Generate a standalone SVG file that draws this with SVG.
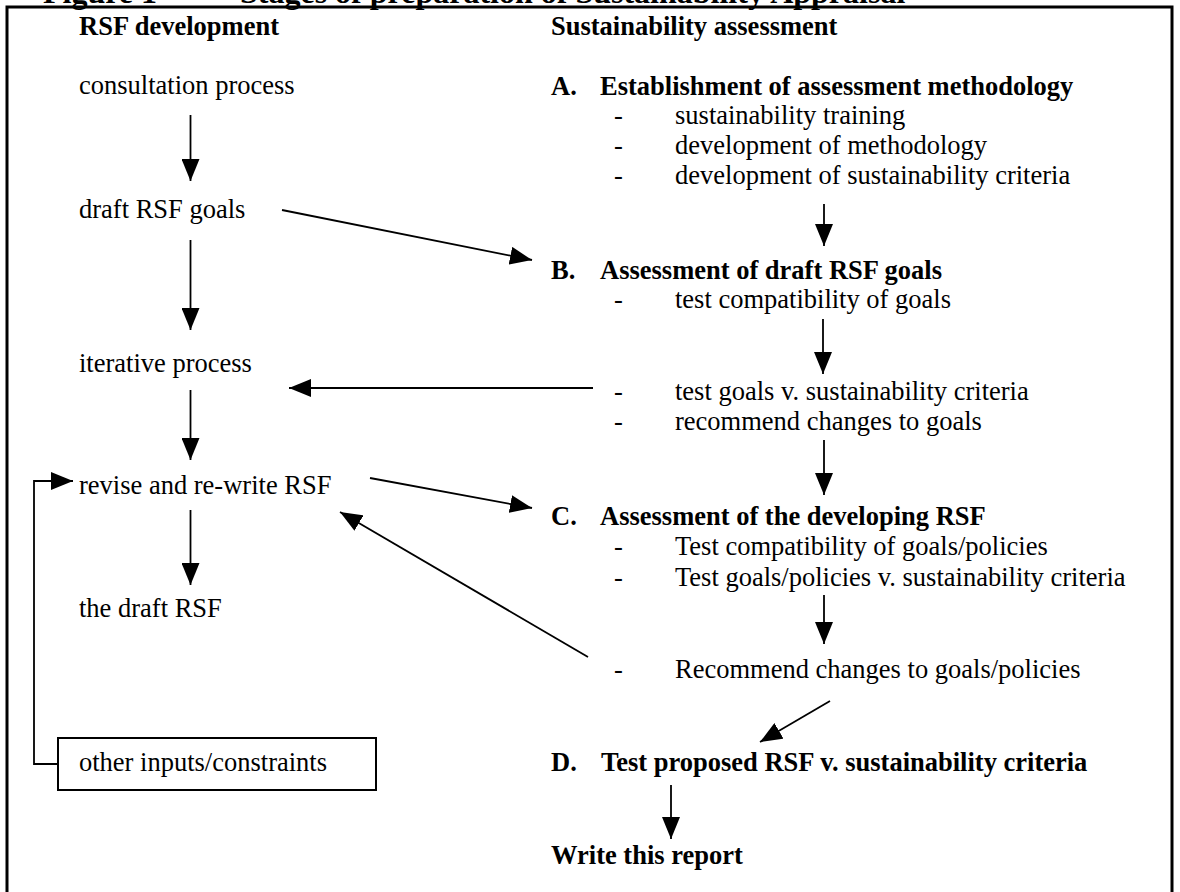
<svg xmlns="http://www.w3.org/2000/svg" width="1180" height="892" viewBox="0 0 1180 892">
<style>
text{font-family:"Liberation Serif","Times New Roman",serif;font-size:26.5px;fill:#000}
.b{font-weight:bold}
.t{font-weight:bold;font-size:32px}
.ln{stroke:#000;stroke-width:1.8;fill:none}
</style>
<defs>
<marker id="ah" markerUnits="userSpaceOnUse" markerWidth="22" markerHeight="18" refX="22" refY="9" orient="auto" viewBox="0 0 22 18">
<path d="M0,0 L22,9 L0,18 z" fill="#000"/>
</marker>
</defs>
<rect width="1180" height="892" fill="#fff"/>
<text class="t" y="3"><tspan x="43">Figure 1</tspan><tspan x="240">Stages of preparation of Sustainability Appraisal</tspan></text>
<rect x="7" y="7" width="1165" height="895" fill="none" stroke="#000" stroke-width="3"/>
<g id="headings">
<text class="b" x="79" y="35">RSF development</text>
<text class="b" x="551" y="35">Sustainability assessment</text>
</g>
<g id="consultation"><text x="79" y="94">consultation process</text></g>
<g id="draft-goals"><text x="79" y="218">draft RSF goals</text></g>
<g id="iterative"><text x="79" y="372">iterative process</text></g>
<g id="revise"><text x="79" y="494">revise and re-write RSF</text></g>
<g id="draft-rsf"><text x="79" y="617">the draft RSF</text></g>
<g id="other-inputs">
<rect x="58" y="738" width="318" height="52" fill="none" stroke="#000" stroke-width="2"/>
<text x="79" y="771">other inputs/constraints</text>
</g>
<g id="stage-a">
<text class="b" x="551" y="95">A.</text><text class="b" x="600" y="95">Establishment of assessment methodology</text>
<text x="614" y="124">-</text><text x="675" y="124">sustainability training</text>
<text x="614" y="154">-</text><text x="675" y="154">development of methodology</text>
<text x="614" y="184">-</text><text x="675" y="184">development of sustainability criteria</text>
</g>
<g id="stage-b">
<text class="b" x="551" y="279">B.</text><text class="b" x="600" y="279">Assessment of draft RSF goals</text>
<text x="614" y="308">-</text><text x="675" y="308">test compatibility of goals</text>
<text x="614" y="400">-</text><text x="675" y="400">test goals v. sustainability criteria</text>
<text x="614" y="430">-</text><text x="675" y="430">recommend changes to goals</text>
</g>
<g id="stage-c">
<text class="b" x="551" y="525">C.</text><text class="b" x="600" y="525">Assessment of the developing RSF</text>
<text x="614" y="555">-</text><text x="675" y="555">Test compatibility of goals/policies</text>
<text x="614" y="586">-</text><text x="675" y="586">Test goals/policies v. sustainability criteria</text>
<text x="614" y="678">-</text><text x="675" y="678">Recommend changes to goals/policies</text>
</g>
<g id="stage-d">
<text class="b" x="551" y="771">D.</text><text class="b" x="601" y="771">Test proposed RSF v. sustainability criteria</text>
</g>
<g id="report"><text class="b" x="551" y="864">Write this report</text></g>
<g id="connectors" class="ln">
<line class="ln" x1="190.5" y1="115" x2="190.5" y2="181" marker-end="url(#ah)"/>
<line class="ln" x1="282" y1="210" x2="532" y2="260" marker-end="url(#ah)"/>
<line class="ln" x1="190.5" y1="240" x2="190.5" y2="330" marker-end="url(#ah)"/>
<line class="ln" x1="593" y1="388" x2="289" y2="388" marker-end="url(#ah)"/>
<line class="ln" x1="190.5" y1="390" x2="190.5" y2="460" marker-end="url(#ah)"/>
<path class="ln" d="M58,764 H34 V481 H73" marker-end="url(#ah)"/>
<line class="ln" x1="190.5" y1="510" x2="190.5" y2="585" marker-end="url(#ah)"/>
<line class="ln" x1="370" y1="478" x2="532" y2="508" marker-end="url(#ah)"/>
<line class="ln" x1="588" y1="657" x2="340" y2="512" marker-end="url(#ah)"/>
<line class="ln" x1="824" y1="204" x2="824" y2="246" marker-end="url(#ah)"/>
<line class="ln" x1="823" y1="319" x2="823" y2="374" marker-end="url(#ah)"/>
<line class="ln" x1="824" y1="440" x2="824" y2="495" marker-end="url(#ah)"/>
<line class="ln" x1="824" y1="595" x2="824" y2="644" marker-end="url(#ah)"/>
<line class="ln" x1="830" y1="701" x2="760" y2="742" marker-end="url(#ah)"/>
<line class="ln" x1="671" y1="785" x2="671" y2="839" marker-end="url(#ah)"/>
</g>
</svg>
